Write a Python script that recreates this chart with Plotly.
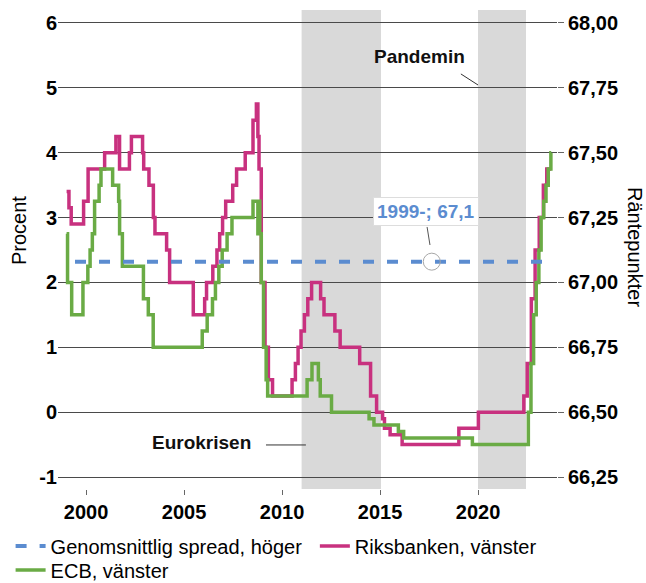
import plotly.graph_objects as go

# ---------------- data ----------------
riks_dates = ["1999-01-04", "1999-02-17", "1999-03-31", "1999-11-17", "2000-02-09", "2000-12-13",
              "2001-07-11", "2001-09-17", "2002-03-20", "2002-04-26", "2002-11-20", "2002-12-11",
              "2003-03-19", "2003-06-09", "2003-07-09", "2004-02-11", "2004-04-07", "2005-06-22",
              "2006-01-20", "2006-02-24", "2006-06-21", "2006-09-06", "2006-10-27", "2006-12-20",
              "2007-02-16", "2007-06-27", "2007-09-07", "2008-02-15", "2008-07-09", "2008-09-10",
              "2008-10-08", "2008-10-29", "2008-12-10", "2009-02-18", "2009-04-22", "2009-07-08",
              "2010-07-07", "2010-09-07", "2010-10-27", "2010-12-21", "2011-02-22", "2011-04-26",
              "2011-07-06", "2011-12-21", "2012-02-22", "2012-09-12", "2012-12-19", "2013-12-18",
              "2014-07-09", "2014-10-29", "2015-02-18", "2015-03-25", "2015-07-08", "2016-02-17",
              "2019-01-09", "2020-01-08", "2022-05-04", "2022-07-06", "2022-09-21", "2022-11-30",
              "2023-02-15", "2023-05-03", "2023-07-05"]
riks_vals = [3.40, 3.15, 2.90, 3.25, 3.75, 4.00,
             4.25, 3.75, 4.00, 4.25, 4.00, 3.75,
             3.50, 3.00, 2.75, 2.50, 2.00, 1.50,
             1.75, 2.00, 2.25, 2.50, 2.75, 3.00,
             3.25, 3.50, 3.75, 4.00, 4.50, 4.75,
             4.25, 3.75, 2.00, 1.00, 0.50, 0.25,
             0.50, 0.75, 1.00, 1.25, 1.50, 1.75,
             2.00, 1.75, 1.50, 1.25, 1.00, 0.75,
             0.25, 0.00, -0.10, -0.25, -0.35, -0.50,
             -0.25, 0.00, 0.25, 0.75, 1.75, 2.50,
             3.00, 3.50, 3.75]

ecb_dates = ["1999-01-04", "1999-01-22", "1999-04-09", "1999-11-05", "2000-02-04", "2000-03-17",
             "2000-04-28", "2000-06-09", "2000-09-01", "2000-10-06", "2001-05-11", "2001-08-31",
             "2001-09-18", "2001-11-09", "2002-12-06", "2003-03-07", "2003-06-06", "2005-12-06",
             "2006-03-08", "2006-06-15", "2006-08-09", "2006-10-11", "2006-12-13", "2007-03-14",
             "2007-06-13", "2008-07-09", "2008-10-08", "2008-10-15", "2008-11-12", "2008-12-10",
             "2009-01-21", "2009-03-11", "2009-04-08", "2011-04-13", "2011-07-13", "2011-11-09",
             "2011-12-14", "2012-07-11", "2014-06-11", "2014-09-10", "2015-12-09", "2016-03-16",
             "2019-09-18", "2022-07-27", "2022-09-14", "2022-11-02", "2022-12-21", "2023-02-08",
             "2023-03-22", "2023-05-10", "2023-06-21", "2023-08-02", "2023-09-20"]
ecb_vals = [2.75, 2.00, 1.50, 2.00, 2.25, 2.50,
            2.75, 3.25, 3.50, 3.75, 3.50, 3.25,
            2.75, 2.25, 1.75, 1.50, 1.00, 1.25,
            1.50, 1.75, 2.00, 2.25, 2.50, 2.75,
            3.00, 3.25, 2.75, 3.25, 2.75, 2.00,
            1.00, 0.50, 0.25, 0.50, 0.75, 0.50,
            0.25, 0.00, -0.10, -0.20, -0.30, -0.40,
            -0.50, 0.00, 0.75, 1.50, 2.00, 2.50,
            3.00, 3.25, 3.50, 3.75, 4.00]

end_date = "2023-09-26"

spread_dates = ["1999-06-10", "2023-11-17"]
spread_vals = [67.08, 67.08]
spread_label_date = "2017-08-22"

left_ticks = [-1, 0, 1, 2, 3, 4, 5, 6]
left_ticktext = ["-1", "0", "1", "2", "3", "4", "5", "6"]
right_ticks = [66.25, 66.50, 66.75, 67.00, 67.25, 67.50, 67.75, 68.00]
right_ticktext = ["66,25", "66,50", "66,75", "67,00", "67,25", "67,50", "67,75", "68,00"]
year_ticks = ["2000-01-01", "2005-01-01", "2010-01-01", "2015-01-01", "2020-01-01"]
year_text = ["2000", "2005", "2010", "2015", "2020"]

crisis_periods = [("2011-01-01", "2015-01-19"), ("2020-01-01", "2022-06-13")]

# ---------------- styles ----------------
PINK = "#C8317F"
GREEN = "#6AAB45"
BLUE = "#5B8CD0"
FONT = "Liberation Sans, Arial, sans-serif"

fig = go.Figure()

fig.add_trace(go.Scatter(
    x=spread_dates, y=spread_vals, yaxis="y2", mode="lines",
    name="Genomsnittlig spread, höger", legend="legend",
    line=dict(color=BLUE, width=4, dash="11px,13px"),
))
fig.add_trace(go.Scatter(
    x=riks_dates + [end_date], y=riks_vals + [riks_vals[-1]], mode="lines",
    name="Riksbanken, vänster", legend="legend2",
    line=dict(color=PINK, width=3.5, shape="hv"),
))
fig.add_trace(go.Scatter(
    x=ecb_dates + [end_date], y=ecb_vals + [ecb_vals[-1]], mode="lines",
    name="ECB, vänster", legend="legend3",
    line=dict(color=GREEN, width=3.5, shape="hv"),
))
fig.add_trace(go.Scatter(
    x=[spread_label_date], y=[spread_vals[0]], yaxis="y2", mode="markers",
    marker=dict(symbol="circle-open", size=17, color="#A8A8A8", line=dict(width=1)),
    showlegend=False, hoverinfo="skip",
))

shapes = []
for start, stop in crisis_periods:
    shapes.append(dict(type="rect", xref="x", yref="paper", x0=start, x1=stop, y0=0, y1=1,
                       fillcolor="#D9D9D9", line=dict(width=0), layer="below"))
# annotation connectors
shapes.append(dict(type="line", xref="x", yref="y", x0="2019-02-16", y0=5.214, x1="2020-01-01", y1=5.044,
                   line=dict(color="#333", width=1)))
shapes.append(dict(type="line", xref="x", yref="y", x0="2009-03-08", y0=-0.506, x1="2011-03-22", y1=-0.506,
                   line=dict(color="#333", width=1)))
shapes.append(dict(type="line", xref="x", yref="y", x0="2017-05-27", y0=2.855, x1="2017-07-20", y1=2.577,
                   line=dict(color="#555", width=1)))

annotations = [
    dict(text="Pandemin", x="2017-01-12", y=5.476, xref="x", yref="y", showarrow=False,
         font=dict(size=19, weight="bold", color="#111")),
    dict(text="Eurokrisen", x="2005-11-14", y=-0.475, xref="x", yref="y", showarrow=False,
         font=dict(size=19, weight="bold", color="#111")),
    dict(text="1999-; 67,1", x="2017-05-08", y=3.091, xref="x", yref="y", showarrow=False,
         font=dict(size=19, weight="bold", color=BLUE), bgcolor="white",
         bordercolor="#DDDDDD", borderwidth=1, borderpad=3),
    dict(text="Procent", x=19, y=231, xref="paper", yref="paper", showarrow=False,
         xanchor="center", yanchor="middle",
         textangle=-90, font=dict(size=20, color="black")),
    dict(text="Räntepunkter", x=635, y=247, xref="paper", yref="paper", showarrow=False,
         xanchor="center", yanchor="middle",
         textangle=90, font=dict(size=20, color="black")),
]

# convert the two axis-title positions from figure pixels to paper fractions
L, R, T, B, W, H = 58, 89, 10, 94, 646, 583
PW, PH = W - L - R, H - T - B
for a in annotations[3:]:
    a["x"] = (a["x"] - L) / PW
    a["y"] = (H - B - a["y"]) / PH

legend_common = dict(orientation="h", xref="container", yref="container",
                     xanchor="left", yanchor="middle",
                     font=dict(size=20, color="black"), bgcolor="rgba(0,0,0,0)",
                     itemwidth=30)

fig.update_layout(
    width=W, height=H,
    margin=dict(l=L, r=R, t=T, b=B, autoexpand=False),
    plot_bgcolor="white", paper_bgcolor="white",
    font=dict(family=FONT, color="black"),
    showlegend=True,
    legend=dict(x=0.0164, y=1 - 546 / H, **legend_common),
    legend2=dict(x=0.4874, y=1 - 546 / H, **legend_common),
    legend3=dict(x=0.0164, y=1 - 570 / H, **legend_common),
    xaxis=dict(type="date", range=["1998-07-28", "2024-01-12"],
               tickvals=year_ticks, ticktext=year_text,
               ticks="outside", ticklen=5, tickcolor="#666", tickwidth=1,
               tickfont=dict(size=20, weight="bold", color="black"),
               showgrid=False, zeroline=False, showline=False),
    yaxis=dict(range=[-1.185, 6.2], tickvals=left_ticks, ticktext=left_ticktext,
               ticks="",
               tickfont=dict(size=20, weight="bold", color="black"),
               showgrid=True, gridcolor="#4A4A4A", gridwidth=1,
               zeroline=False, showline=False),
    yaxis2=dict(overlaying="y", side="right", range=[66.20375, 68.05],
                tickvals=right_ticks, ticktext=right_ticktext,
                ticks="outside", ticklen=6, tickcolor="#666",
                tickfont=dict(size=20, weight="bold", color="black"),
                showgrid=False, zeroline=False, showline=False),
    shapes=shapes,
    annotations=annotations,
)

fig.write_html("out.html", config={"displayModeBar": False},
               post_script="document.body.style.margin='0';document.body.style.padding='0';")
